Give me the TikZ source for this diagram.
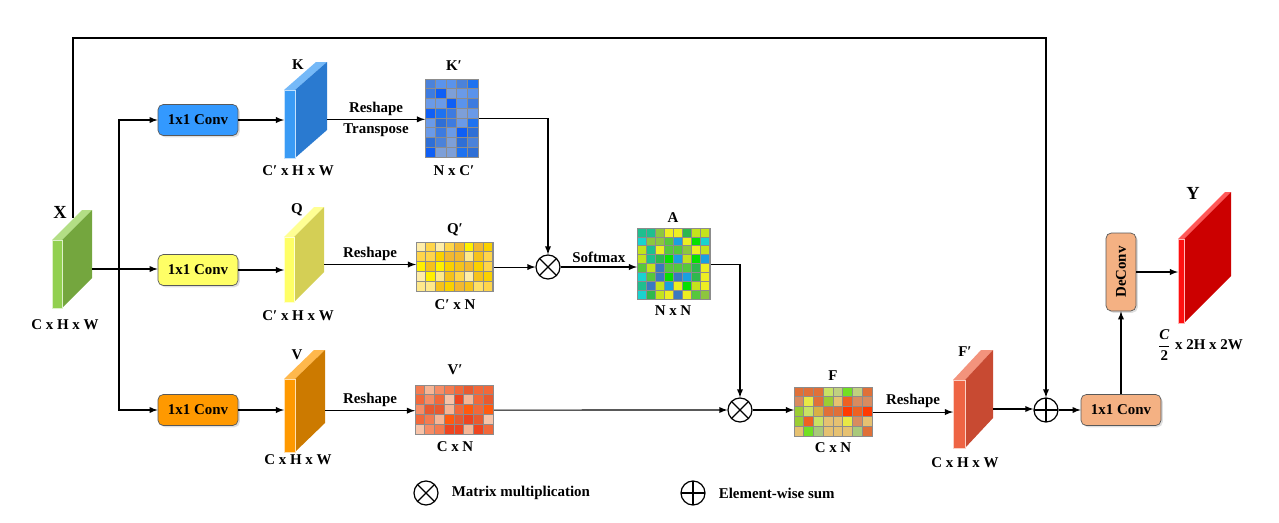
\documentclass[tikz,border=0pt]{standalone}
\usepackage{fontspec}
\setmainfont{Liberation Serif}
\usetikzlibrary{positioning,shadows}

% slab colours (front / side)
\definecolor{xf}{HTML}{92D050}\definecolor{xs}{HTML}{74A63E}
\definecolor{kf}{HTML}{3A9BF5}\definecolor{ks}{HTML}{2A7AD0}
\definecolor{qf}{HTML}{FFFF66}\definecolor{qs}{HTML}{D4CF55}
\definecolor{vf}{HTML}{FF9900}\definecolor{vs}{HTML}{CC7A00}
\definecolor{ff}{HTML}{EE6444}\definecolor{fs}{HTML}{C84A32}
\definecolor{yf}{HTML}{FF1010}\definecolor{ys}{HTML}{CC0000}
% box colours
\definecolor{convblue}{HTML}{3399FF}
\definecolor{convyel}{HTML}{FFFF66}
\definecolor{convorg}{HTML}{FF9900}
\definecolor{convpeach}{HTML}{F4B183}
\definecolor{gridline}{HTML}{8C8C8C}
% cell palettes
\definecolor{kc1}{HTML}{2F6FD6}\definecolor{kc2}{HTML}{5A93EC}\definecolor{kc3}{HTML}{1E72F0}
\definecolor{kc4}{HTML}{7D9FD8}\definecolor{kc5}{HTML}{4B82DA}\definecolor{kc6}{HTML}{0F5FF5}
\definecolor{kc7}{HTML}{6A9AE8}\definecolor{kc8}{HTML}{3D7BE0}
\definecolor{qc1}{HTML}{FFE066}\definecolor{qc2}{HTML}{FFD54A}\definecolor{qc3}{HTML}{FFF000}
\definecolor{qc4}{HTML}{F5C21B}\definecolor{qc5}{HTML}{FFEDA8}\definecolor{qc6}{HTML}{F2B830}
\definecolor{qc7}{HTML}{FFE98A}\definecolor{qc8}{HTML}{FAD000}
\definecolor{vc1}{HTML}{F7B595}\definecolor{vc2}{HTML}{F2683A}\definecolor{vc3}{HTML}{EE4520}
\definecolor{vc4}{HTML}{F68D66}\definecolor{vc5}{HTML}{F8C3A8}\definecolor{vc6}{HTML}{FF5A10}
\definecolor{vc7}{HTML}{E85A30}\definecolor{vc8}{HTML}{F47B50}
\definecolor{ac1}{HTML}{2EB84E}\definecolor{ac2}{HTML}{19D3D0}\definecolor{ac3}{HTML}{C4E31C}
\definecolor{ac4}{HTML}{3A79C0}\definecolor{ac5}{HTML}{07E000}\definecolor{ac6}{HTML}{1FBF8F}
\definecolor{ac7}{HTML}{EEEE22}\definecolor{ac8}{HTML}{8DC63F}\definecolor{ac9}{HTML}{1AA0E0}
\definecolor{ac10}{HTML}{56C83C}
\definecolor{fc1}{HTML}{A9C97B}\definecolor{fc2}{HTML}{D98B5F}\definecolor{fc3}{HTML}{D8B044}
\definecolor{fc4}{HTML}{C9E264}\definecolor{fc5}{HTML}{E8E846}\definecolor{fc6}{HTML}{9BCD33}
\definecolor{fc7}{HTML}{EE6122}\definecolor{fc8}{HTML}{FF3A00}\definecolor{fc9}{HTML}{E6C171}
\definecolor{fc10}{HTML}{72E023}\definecolor{fc11}{HTML}{C0D080}\definecolor{fc12}{HTML}{E07038}

\tikzset{
	every node/.style={font=\bfseries\fontsize{8.5}{10}\selectfont},
	big/.style={font=\bfseries\fontsize{10.5}{12}\selectfont},
	lbl/.style={inner sep=1pt},
	conv/.style={draw=black!65, rounded corners=3pt, minimum width=1.6cm, minimum height=0.62cm, inner sep=0pt,
		drop shadow={opacity=0.25, shadow xshift=1pt, shadow yshift=-1pt}},
	op/.style={circle, draw, line width=0.7pt, minimum size=0.48cm, inner sep=0pt},
	mul/.style={op, path picture={\draw[line width=0.7pt] (path picture bounding box.north west) -- (path picture bounding box.south east)
		(path picture bounding box.north east) -- (path picture bounding box.south west);}},
	sum/.style={op, path picture={\draw[line width=0.7pt] (path picture bounding box.north) -- (path picture bounding box.south)
		(path picture bounding box.west) -- (path picture bounding box.east);}},
	arr/.style={-latex, line width=0.6pt},
}

% \slab{name}{x}{y}{w}{h}{dx}{dy}{colour}
\newcommand{\slab}[8]{%
	\fill[#8f!70!white] (#2,#3) -- ++(#6,-#7) -- ++(#4,0) -- ++(-#6,#7) -- cycle;
	\fill[#8s] (#2+#4,#3) -- ++(#6,-#7) -- ++(0,#5) -- ++(-#6,#7) -- cycle;
	\fill[#8f] (#2,#3) rectangle ++(#4,#5);
	\draw[white!70!#8f, line width=0.3pt] (#2,#3) rectangle ++(#4,#5);
	\coordinate (#1-in) at (#2,#3+#5/2);
	\coordinate (#1-out) at (#2+#4+#6,#3+#5/2-#7/6);
}

% \grid{name}{x}{y}{cols}{rows}{cell w}{cell h}{palette}{colours}
\newcommand{\grid}[9]{%
	\foreach \i in {1,...,#4}{\foreach \j in {1,...,#5}{%
		\pgfmathrandominteger{\cidx}{1}{#9}%
		\filldraw[fill=#8\cidx, draw=gridline, line width=0.4pt] (#2+\i*#6-#6,#3+\j*#7-#7) rectangle ++(#6,#7);}}
	\node[inner sep=0pt, anchor=north west, draw=gridline, line width=0.6pt,
		minimum width=#4*#6*0.02cm, minimum height=#5*#7*0.02cm] (#1) at (#2,#3) {};
}

\begin{document}
\begin{tikzpicture}[x=0.02cm, y=-0.02cm]
	\useasboundingbox (0,0) rectangle (1279,522);
	\pgfmathsetseed{12}

	% input
	\slab{X}{52}{240}{10}{68}{30}{30}{x}
	\node[big] at (60,212) {X};
	\node at (65,325) {C x H x W};
	\coordinate (X-top) at (73,218);
	\coordinate (split) at (119,269);
	\coordinate (bend) at (0,38);

	% three 1x1 convolutions
	\node[conv, fill=convblue] (convK) at (198,120) {1x1 Conv};
	\node[conv, fill=convyel] (convQ) at (198,270) {1x1 Conv};
	\node[conv, fill=convorg] (convV) at (198,410) {1x1 Conv};

	\draw[arr] (X-out) -- (X-out -| convQ.west);
	\draw[arr] (split) |- (convK.west);
	\draw[arr] (split) |- (convV.west);

	% K branch
	\slab{K}{284}{90}{11}{68}{32}{28}{k}
	\node at (298,65) {K};
	\node at (298,171) {C′ x H x W};
	\draw[arr] (convK) -- (convK -| K-in);
	\grid{Kp}{425}{79}{5}{8}{10.6}{9.75}{kc}{8}
	\node at (454,66) {K′};
	\node at (454,171) {N x C′};
	\draw[arr] (K-out) -- (K-out -| Kp.west) node[lbl, midway, above=1pt] {Reshape} node[lbl, midway, below=1pt] {Transpose};

	% Q branch
	\slab{Q}{284}{237}{10}{65}{30}{30}{q}
	\node at (297,210) {Q};
	\node at (298,316) {C′ x H x W};
	\draw[arr] (convQ) -- (convQ -| Q-in);
	\grid{Qp}{416}{242}{8}{5}{9.6}{9.8}{qc}{8}
	\node at (455,230) {Q′};
	\node at (455,305) {C′ x N};
	\draw[arr] (Q-out) -- (Q-out -| Qp.west) node[lbl, midway, above=1pt] {Reshape};

	% V branch
	\slab{V}{284}{379}{11}{73}{30}{29}{v}
	\node at (297,355) {V};
	\node at (298,460) {C x H x W};
	\draw[arr] (convV) -- (convV -| V-in);
	\grid{Vp}{415}{385}{8}{5}{9.75}{9.8}{vc}{8}
	\node at (455,370) {V′};
	\node at (455,447) {C x N};
	\draw[arr] (V-out) -- (V-out -| Vp.west) node[lbl, midway, above=1pt] {Reshape};

	% attention map
	\node[mul] (mul1) at (548,267) {};
	\draw[arr] (Kp.east) -| (mul1.north);
	\draw[arr] (Qp.east) -- (Qp.east -| mul1.west);
	\grid{A}{637}{228}{8}{8}{9.1}{8.9}{ac}{10}
	\node at (673,218) {A};
	\node at (673,311) {N x N};
	\draw[arr] (mul1) -- (mul1 -| A.west) node[lbl, midway, above=1pt] {Softmax};

	% output of attention
	\node[mul] (mul2) at (740,410) {};
	\draw[arr] (A.east) -| (mul2.north);
	\draw[arr] (Vp.east) -- (mul2.west);
	\grid{F}{794}{387}{8}{5}{9.75}{9.8}{fc}{12}
	\node at (833,376) {F};
	\node at (833,448) {C x N};
	\draw[arr] (mul2) -- (mul2 -| F.west);

	\slab{Fs}{953}{380}{12}{68}{28}{30}{f}
	\node at (965,352) {F′};
	\node at (965,463) {C x H x W};
	\draw[arr] (F.east) -- (F.east -| Fs-in) node[lbl, midway, above=1pt] {Reshape};

	% residual sum and upsampling
	\node[sum] (sum) at (1046,410) {};
	\draw[arr] (X-top) -- (X-top |- bend) -| (sum.north);
	\draw[arr] (Fs-out) -- (Fs-out -| sum.west);
	\node[conv, fill=convpeach] (conv2) at (1121,410) {1x1 Conv};
	\node[conv, fill=convpeach, minimum width=1.56cm, minimum height=0.6cm, rotate=90] (deconv) at (1121,272) {DeConv};
	\draw[arr] (sum) -- (conv2);
	\draw[arr] (conv2) -- (deconv);

	\slab{Y}{1178}{239}{6}{84}{47}{47}{y}
	\node[big] at (1193,193) {Y};
	\node at (1200,345) {$\displaystyle\frac{\textbf{\textit{C}}}{\textbf{2}}$ x 2H x 2W};
	\draw[arr] (deconv) -- (deconv -| Y-in);

	% legend
	\node[mul] (legmul) at (426,493) {};
	\node[right=4pt of legmul] {Matrix multiplication};
	\node[sum] (legsum) at (693,493) {};
	\node[right=4pt of legsum] {Element-wise sum};
\end{tikzpicture}
\end{document}
